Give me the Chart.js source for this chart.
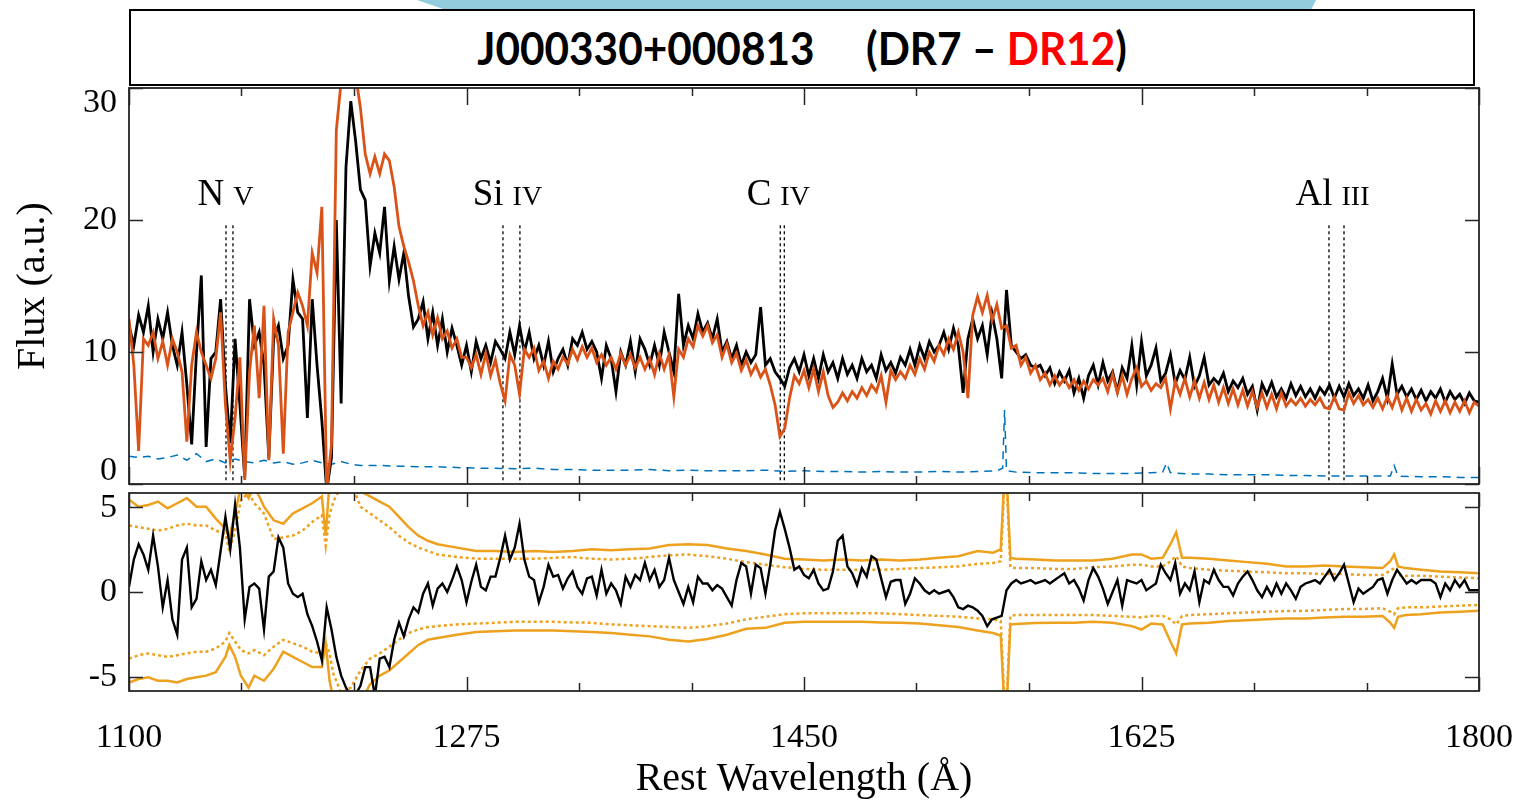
<!DOCTYPE html>
<html><head><meta charset="utf-8">
<script src="https://cdn.jsdelivr.net/npm/chart.js@4.4.1/dist/chart.umd.min.js"></script>
<style>
html,body{margin:0;padding:0;background:#fff;}
body{width:1516px;height:803px;position:relative;overflow:hidden;}
#deco{position:absolute;left:400px;top:0;width:930px;height:30px;background:#93CDDD;clip-path:polygon(17px 0,916px 0,901px 30px,104px 30px);z-index:1;}
#titlebox{position:absolute;left:129px;top:9px;width:1346px;height:77px;box-sizing:border-box;border:2px solid #000;background:#fff;display:flex;align-items:center;justify-content:center;z-index:2;}
#titletext{font-family:Lato,"Open Sans",sans-serif;font-weight:700;font-size:46px;color:#000;white-space:pre;transform:scaleX(0.92);line-height:1;}
canvas{position:absolute;left:0;z-index:3;}
#cTop{top:0;}
#cBot{top:486px;}
</style></head>
<body>
<div id="deco"></div>
<div id="titlebox"><span id="titletext">J000330+000813<span style="display:inline-block;width:56px"></span>(DR7 – <span style="color:#ff0000">DR12</span>)</span></div>
<canvas id="cTop" width="1516" height="500"></canvas>
<canvas id="cBot" width="1516" height="317"></canvas>
<script>
// ---------- DATA ----------
const wavelength = [
1100,1102.5,1105,1107.5,1110,1112.5,1115,1117.5,1120,1122.5,
1125,1127.5,1130,1132.5,1135,1137.5,1140,1142.5,1145,1147.5,
1150,1152.5,1155,1157.5,1160,1162.5,1165,1167.5,1170,1172.5,
1175,1177.5,1180,1182.5,1185,1187.5,1190,1192.5,1195,1197.5,
1200,1202.5,1205,1207.5,1210,1212.5,1215,1217.5,1220,1222.5,
1225,1227.5,1230,1232.5,1235,1237.5,1240,1242.5,1245,1247.5,
1250,1252.5,1255,1257.5,1260,1262.5,1265,1267.5,1270,1272.5,
1275,1277.5,1280,1282.5,1285,1287.5,1290,1292.5,1295,1297.5,
1300,1302.5,1305,1307.5,1310,1312.5,1315,1317.5,1320,1322.5,
1325,1327.5,1330,1332.5,1335,1337.5,1340,1342.5,1345,1347.5,
1350,1352.5,1355,1357.5,1360,1362.5,1365,1367.5,1370,1372.5,
1375,1377.5,1380,1382.5,1385,1387.5,1390,1392.5,1395,1397.5,
1400,1402.5,1405,1407.5,1410,1412.5,1415,1417.5,1420,1422.5,
1425,1427.5,1430,1432.5,1435,1437.5,1440,1442.5,1445,1447.5,
1450,1452.5,1455,1457.5,1460,1462.5,1465,1467.5,1470,1472.5,
1475,1477.5,1480,1482.5,1485,1487.5,1490,1492.5,1495,1497.5,
1500,1502.5,1505,1507.5,1510,1512.5,1515,1517.5,1520,1522.5,
1525,1527.5,1530,1532.5,1535,1537.5,1540,1542.5,1545,1547.5,
1550,1552.5,1555,1557.5,1560,1562.5,1565,1567.5,1570,1572.5,
1575,1577.5,1580,1582.5,1585,1587.5,1590,1592.5,1595,1597.5,
1600,1602.5,1605,1607.5,1610,1612.5,1615,1617.5,1620,1622.5,
1625,1627.5,1630,1632.5,1635,1637.5,1640,1642.5,1645,1647.5,
1650,1652.5,1655,1657.5,1660,1662.5,1665,1667.5,1670,1672.5,
1675,1677.5,1680,1682.5,1685,1687.5,1690,1692.5,1695,1697.5,
1700,1702.5,1705,1707.5,1710,1712.5,1715,1717.5,1720,1722.5,
1725,1727.5,1730,1732.5,1735,1737.5,1740,1742.5,1745,1747.5,
1750,1752.5,1755,1757.5,1760,1762.5,1765,1767.5,1770,1772.5,
1775,1777.5,1780,1782.5,1785,1787.5,1790,1792.5,1795,1797.5,1800];

const fluxDR7 = [
12.0,10.5,12.8,11.5,13.5,10.0,12.5,11.0,13.0,10.5,
9.0,11.5,7.5,3.0,10.0,15.8,2.8,9.5,10.0,14.0,
7.5,3.1,11.0,6.0,0.5,14.0,10.5,11.5,9.0,2.0,
11.0,12.0,9.5,10.5,15.5,13.0,12.5,5.0,14.0,9.0,
4.8,-0.5,2.0,20.0,6.1,24.0,29.0,26.0,22.3,21.5,
16.5,19.0,17.5,21.0,15.4,18.0,15.5,17.5,14.2,11.9,
12.5,13.8,11.0,13.0,10.5,12.5,10.0,11.8,10.5,9.0,
10.5,8.5,10.8,9.5,10.5,9.2,10.8,10.2,9.5,11.5,
9.8,12.0,10.0,11.5,9.5,10.5,9.0,10.8,8.5,9.5,
10.2,9.0,11.0,10.5,11.5,10.2,10.8,10.0,8.0,10.5,
9.5,7.0,10.0,9.0,10.8,8.5,11.0,10.2,9.0,10.5,
9.0,11.5,10.0,8.5,14.4,10.5,12.0,11.0,12.9,11.5,
12.2,11.0,12.5,10.0,10.8,9.5,10.5,9.0,10.0,9.2,
9.8,13.4,9.0,9.5,8.5,8.0,7.4,8.8,9.5,8.5,
9.8,8.2,9.5,8.0,9.8,8.5,9.2,8.0,9.5,8.3,
9.0,8.0,9.5,8.5,9.0,8.0,9.8,8.6,9.2,8.4,
9.6,9.0,10.2,9.0,10.5,9.5,10.8,10.0,10.5,11.5,
10.2,11.8,10.5,6.9,11.0,12.5,11.0,12.0,9.8,12.9,
11.0,8.0,14.7,10.5,10.0,9.5,9.8,9.0,8.8,9.0,
8.2,8.8,7.6,8.5,7.8,8.6,6.9,8.0,6.5,8.2,
9.0,7.5,9.2,7.8,8.5,7.0,8.8,8.0,10.5,7.5,
10.8,8.2,9.0,10.3,7.8,8.4,9.8,7.6,8.6,7.9,
9.6,7.4,8.2,9.6,7.5,8.0,7.6,8.4,7.0,7.8,
7.3,8.0,6.8,7.4,5.6,7.6,6.8,7.7,6.6,7.2,
6.5,7.6,6.7,7.4,6.6,7.2,6.5,7.3,6.8,7.5,
6.5,7.4,6.6,7.6,6.7,7.2,6.5,7.5,6.3,7.0,
8.0,6.5,9.1,6.8,7.4,6.6,7.2,6.4,7.1,6.3,
7.0,6.5,7.2,6.2,7.0,6.4,6.8,6.1,6.9,6.3,6.2];

const fluxDR12 = [
12.5,9.0,2.5,11.0,10.5,11.5,9.5,10.8,9.0,11.0,
10.0,8.5,3.2,9.0,11.5,10.0,9.0,8.0,9.5,13.0,
6.0,1.8,5.0,9.6,0.3,8.5,12.0,6.5,13.5,1.8,
12.5,10.5,2.3,11.5,13.0,14.5,13.5,12.0,17.5,16.0,
21.0,-0.5,3.0,26.8,30.5,33.0,34.0,31.0,28.5,25.0,
23.5,24.8,23.5,25.0,24.5,22.5,19.5,18.0,16.8,15.4,
13.5,12.0,13.0,11.3,12.6,11.0,11.6,10.3,11.0,9.6,
9.6,8.8,9.8,8.3,9.9,8.2,9.4,7.6,6.3,9.8,
9.0,6.8,10.2,9.6,10.3,8.6,9.3,8.0,9.3,8.7,
9.6,9.1,10.2,9.4,10.4,9.6,10.3,9.2,9.8,9.0,
9.6,8.7,9.9,9.0,9.8,8.8,9.6,8.7,9.5,8.3,
9.9,8.7,9.8,6.6,10.2,9.6,11.0,10.4,12.0,11.2,
12.0,10.7,11.3,9.6,10.6,9.2,9.9,8.6,9.4,8.3,
9.0,8.1,8.7,7.5,6.0,3.6,4.2,6.5,8.2,7.6,
8.6,7.3,8.7,7.0,8.5,6.7,5.8,6.2,6.9,6.3,
7.0,6.5,7.3,6.7,7.5,7.0,8.2,6.2,8.6,7.9,
8.5,8.0,9.0,8.3,9.5,8.7,10.0,9.3,10.5,9.8,
11.0,10.2,11.5,10.0,6.5,12.8,14.2,13.0,14.3,12.4,
13.6,11.8,12.0,10.3,10.5,9.0,9.6,8.4,9.0,7.9,
8.4,7.5,8.2,7.5,8.0,7.3,7.9,7.1,7.8,7.2,
7.9,7.5,8.0,7.0,8.3,6.9,8.2,6.8,8.0,8.8,
7.4,7.8,7.1,7.6,7.3,8.0,5.7,7.8,6.8,8.0,
6.6,7.8,6.5,7.7,6.4,7.5,6.2,7.3,6.1,7.2,
6.0,7.1,5.9,7.0,5.8,6.9,5.8,6.8,5.7,6.9,
5.9,6.4,6.0,6.5,5.9,6.4,6.0,6.5,5.8,5.7,
6.6,5.7,5.6,6.9,6.1,6.7,6.0,6.4,5.8,6.5,
5.7,6.6,5.8,6.8,5.6,6.5,5.5,6.4,5.6,6.1,
5.3,6.3,5.5,6.3,5.4,6.2,5.5,6.3,5.4,6.2,5.9];

const fluxDiff = [
0.3,1.9,2.8,2.2,1.3,3.3,1.5,-0.9,0.7,-1.6,
-2.5,1.9,2.6,-0.9,-0.4,1.8,0.7,1.3,0.4,2.4,
4.4,2.5,5.1,2.6,-1.6,0.3,0.5,0.2,-2.2,0.9,
1.2,3.2,2.6,0.5,-0.1,-0.3,-0.1,-1.3,-2.0,-2.9,
-4.0,-0.9,-2.2,-3.8,-4.9,-5.6,-6.1,-6.0,-5.5,-4.4,
-4.4,-6.1,-3.9,-3.8,-4.4,-2.8,-1.8,-2.6,-1.6,-0.9,
-1.2,-0.1,0.5,-0.8,0.2,0.5,0.0,0.7,1.5,0.7,
-0.6,0.6,1.6,0.3,0.1,0.9,0.9,2.0,3.3,1.9,
2.6,4.0,1.9,0.9,0.7,-0.6,0.3,1.6,0.9,1.0,
0.2,0.8,1.2,0.3,-0.1,0.8,0.9,-0.2,1.3,-0.1,
0.5,0.1,-0.7,0.9,0.3,1.0,0.7,1.7,0.7,1.3,
0.3,0.7,2.0,0.7,0.0,-0.7,0.3,-0.6,0.9,0.5,
0.5,0.1,0.4,0.2,-0.3,-0.8,0.7,1.7,1.5,-0.1,
1.6,1.4,-0.1,1.6,3.6,4.7,3.7,2.6,1.3,1.5,
1.0,0.8,1.3,0.5,0.1,0.2,1.2,3.0,3.3,1.5,
1.1,0.4,1.4,0.9,2.1,1.9,0.8,-0.3,0.6,0.7,
0.7,-0.7,-0.1,0.8,0.5,0.1,-0.1,0.1,-0.1,0.0,
0.1,-0.3,-0.9,-1.0,-0.8,-0.9,-1.1,-1.4,-2.0,-1.6,
-1.5,-1.4,0.1,0.5,0.7,0.5,0.6,0.7,0.5,0.6,
0.7,0.5,0.7,0.9,1.1,0.5,0.7,0.2,-0.5,0.7,
1.4,0.9,0.2,-0.7,0.0,0.7,-0.8,0.7,0.6,0.5,
0.7,0.1,0.3,0.5,1.6,1.1,0.7,1.7,-0.1,0.5,
0.1,1.2,-0.6,0.7,0.5,1.3,0.7,0.3,0.3,-0.2,
0.5,0.9,1.2,0.7,0.1,-0.3,0.3,-0.2,0.5,-0.1,
0.5,0.1,-0.4,0.3,0.5,0.6,0.7,0.5,0.9,1.3,
0.7,1.1,1.6,0.5,-0.6,0.2,-0.1,0.1,0.3,0.7,
0.8,-0.1,0.7,1.3,0.9,0.5,0.7,0.5,0.7,0.7,
0.7,0.5,-0.3,0.5,0.1,0.7,0.3,0.7,0.1,0.1,0.1];

const errWavelength = [1100,1105,1110,1115,1120,1125,1130,1135,1140,1145,1150,1155,1160,1165,1170,1175,1180,1185,1190,1195,1200,1205,1210,1215,1220,
1230,1240,1250,1260,1270,1280,1290,1300,1310,1320,1330,1340,1350,1360,1370,1380,1390,1400,1410,1420,1430,1440,1450,1460,1470,1480,1490,1500,1510,1520,1530,1540,1550,
1553,1554,1555,1560,1570,1580,1590,1600,1610,1620,1630,1636,1638,1640,
1650,1660,1670,1680,1690,1700,1710,1720,1730,1740,1750,1754,1756,1758,1770,1780,1790,1800];
const fluxError = [2.1,2.0,2.1,1.9,2.0,2.2,1.8,2.3,1.7,1.9,1.6,1.9,1.7,1.6,1.8,1.6,1.7,1.5,1.6,1.8,1.6,1.5,1.7,1.5,1.4,
1.4,1.35,1.3,1.3,1.25,1.2,1.2,1.15,1.2,1.1,1.1,1.05,1.05,1.05,1.1,1.0,1.05,1.0,1.0,1.0,1.05,0.95,1.0,0.95,0.95,0.9,0.95,0.9,0.9,0.95,0.9,0.95,1.0,
1.2,5.6,1.0,0.9,0.85,0.85,0.85,0.8,0.8,0.8,0.85,0.9,1.6,0.85,
0.75,0.75,0.7,0.7,0.7,0.65,0.65,0.6,0.6,0.6,0.6,0.6,1.4,0.6,0.55,0.55,0.5,0.5];

const envWavelength = [1100,1105,1110,1115,1120,1125,1130,1135,1140,1145,
1150,1152,1155,1158,1162,1165,1170,1175,1180,1185,
1190,1195,1200,1202,1204,1206,1210,1215,1220,1225,
1230,1235,1240,1245,1250,1255,1260,1270,1280,1290,
1300,1310,1320,1330,1340,1350,1360,1370,1380,1390,
1400,1410,1420,1430,1440,1450,1460,1470,1480,1490,
1500,1510,1520,1530,1540,1548,1552,1554,1555,1557,
1560,1570,1580,1590,1600,1610,1620,1625,1630,1636,
1640,1643,1646,1650,1660,1670,1680,1690,1700,1710,
1720,1730,1740,1750,1754,1756,1758,1762,1770,1780,
1790,1800];
const envUpperOuter = [5.4,5.0,5.1,5.3,4.9,5.2,5.5,5.0,5.0,4.3,
3.7,3.2,4.6,6.2,5.5,6.2,5.0,4.2,4.0,4.6,
4.9,5.2,5.6,3.3,6.5,7,7,7,5.9,5.6,
5.3,5.0,4.4,3.8,3.3,3.0,2.8,2.6,2.4,2.4,
2.35,2.4,2.35,2.4,2.5,2.45,2.5,2.55,2.75,2.8,
2.75,2.55,2.4,2.2,1.95,1.9,1.85,1.9,1.85,1.9,
1.85,1.9,2.0,2.1,2.4,2.3,2.5,7,7,2.0,
1.95,1.9,1.85,1.85,1.85,1.95,2.2,2.2,1.95,2.0,
2.8,3.5,2.0,2.0,1.95,1.85,1.75,1.65,1.5,1.5,
1.55,1.5,1.45,1.4,1.8,2.2,1.5,1.4,1.3,1.2,
1.15,1.1];
const envUpperInner = [3.9,3.8,3.7,3.6,3.7,3.9,4.0,3.9,3.9,3.6,
3.4,2.4,3.6,5.4,5.8,5.2,4.6,3.1,3.2,3.3,
3.6,4.1,4.5,2.7,4.5,5.3,6.2,6.5,5.0,4.6,
4.2,3.8,3.3,2.9,2.6,2.4,2.2,2.05,1.95,1.95,
1.95,1.95,2.0,2.05,1.95,1.9,1.95,2.05,2.15,2.2,
2.1,1.95,1.75,1.6,1.45,1.35,1.3,1.3,1.3,1.3,
1.35,1.4,1.45,1.5,1.65,1.7,1.8,6.5,6.5,1.45,
1.4,1.4,1.35,1.35,1.45,1.5,1.6,1.6,1.5,1.5,
1.8,2.1,1.5,1.4,1.3,1.25,1.2,1.15,1.1,1.1,
1.05,1.05,1.0,1.0,1.25,1.4,1.0,0.95,0.95,0.9,
0.85,0.8];
const envLowerOuter = [-5.3,-5.1,-5.0,-5.2,-5.2,-5.3,-5.1,-5.0,-4.9,-4.7,
-3.8,-3.1,-3.8,-4.9,-5.6,-4.9,-5.2,-4.5,-3.5,-3.8,
-4.1,-4.4,-4.4,-3.0,-5.2,-6.3,-7,-7,-6.5,-5.4,
-4.9,-4.6,-4.1,-3.6,-3.1,-2.8,-2.7,-2.5,-2.35,-2.3,
-2.25,-2.25,-2.25,-2.3,-2.35,-2.4,-2.5,-2.6,-2.8,-2.9,
-2.75,-2.5,-2.15,-2.1,-1.8,-1.75,-1.75,-1.75,-1.75,-1.78,
-1.8,-1.85,-1.95,-2.05,-2.25,-2.4,-2.55,-7,-7,-1.9,
-1.88,-1.82,-1.8,-1.8,-1.75,-1.8,-2.0,-2.2,-1.85,-1.9,
-2.9,-3.6,-1.9,-1.85,-1.8,-1.7,-1.65,-1.6,-1.55,-1.55,
-1.5,-1.45,-1.45,-1.4,-1.8,-2.1,-1.45,-1.35,-1.3,-1.2,
-1.15,-1.1];
const envLowerInner = [-3.9,-3.7,-3.6,-3.7,-3.8,-3.7,-3.6,-3.5,-3.5,-3.3,
-2.9,-2.4,-2.9,-3.4,-3.6,-3.4,-3.7,-3.2,-2.8,-3.0,
-3.2,-3.5,-3.6,-3.0,-3.6,-4.8,-5.9,-5.6,-4.6,-3.9,
-3.6,-3.2,-2.8,-2.4,-2.2,-2.05,-2.0,-1.9,-1.85,-1.8,
-1.75,-1.75,-1.75,-1.78,-1.8,-1.9,-1.95,-2.0,-2.05,-2.1,
-2.0,-1.85,-1.6,-1.45,-1.3,-1.25,-1.25,-1.25,-1.25,-1.25,
-1.3,-1.35,-1.4,-1.45,-1.55,-1.6,-1.7,-6.5,-6.5,-1.4,
-1.35,-1.35,-1.35,-1.35,-1.35,-1.4,-1.45,-1.5,-1.4,-1.4,
-1.6,-1.9,-1.4,-1.35,-1.3,-1.25,-1.2,-1.15,-1.12,-1.1,
-1.05,-1.0,-1.0,-0.95,-1.15,-1.3,-0.95,-0.9,-0.9,-0.85,
-0.8,-0.76];

const lineNames = ['N', 'Si', 'C', 'Al'];
const lineIons = ['V', 'IV', 'IV', 'III'];
const lineWavelengths = [[1150.3, 1153.9], [1293.9, 1302.7], [1437.7, 1439.8], [1722.2, 1730.0]];
const lineMarkTop = 19.6;

const xTickLabels = [1100, 1275, 1450, 1625, 1800];
const yTicksTop = [0, 10, 20, 30];
const yTicksBottom = [-5, 0, 5];

// ---------- HELPERS ----------
const pts = (xs, ys) => xs.map((x, i) => ({x: x, y: ys[i]}));
const xTickValues = [];
for (let i = 0; i < xTickLabels.length - 1; i++) {
  for (let j = 0; j < 3; j++) xTickValues.push(xTickLabels[i] + j * (xTickLabels[i + 1] - xTickLabels[i]) / 3);
}
xTickValues.push(xTickLabels[xTickLabels.length - 1]);
const isMajor = v => xTickLabels.some(l => Math.abs(l - v) < 0.01);

const SERIF = '"Liberation Serif", "Times New Roman", serif';

const framePlugin = {
  id: 'frame',
  afterDatasetsDraw(chart, args, o) {
    const {ctx, chartArea: a, scales} = chart;
    const x = scales.x, y = scales.y;
    ctx.save();
    ctx.strokeStyle = '#262626';
    ctx.lineWidth = 1.5;
    ctx.beginPath();
    xTickValues.forEach(v => {
      const px = Math.round(x.getPixelForValue(v)) + 0.5;
      const len = isMajor(v) ? o.majorLen : o.minorLen;
      ctx.moveTo(px, a.bottom); ctx.lineTo(px, a.bottom - len);
      ctx.moveTo(px, a.top); ctx.lineTo(px, a.top + len);
    });
    o.yTicks.forEach(v => {
      const py = Math.round(y.getPixelForValue(v)) + 0.5;
      ctx.moveTo(a.left, py); ctx.lineTo(a.left + 14, py);
      ctx.moveTo(a.right, py); ctx.lineTo(a.right - 14, py);
    });
    ctx.stroke();
    ctx.lineWidth = 1.8;
    ctx.strokeRect(a.left, a.top, a.right - a.left, a.bottom - a.top);
    ctx.fillStyle = '#000';
    ctx.font = '34px ' + SERIF;
    ctx.textAlign = 'right';
    ctx.textBaseline = 'middle';
    o.yTicks.forEach(v => {
      let py = y.getPixelForValue(v);
      py = Math.min(Math.max(py, a.top + 15), a.bottom - 13);
      ctx.fillText(String(v), a.left - 12, py);
    });
    if (o.lineLabels) {
      const base = y.getPixelForValue(21.1);
      ctx.textAlign = 'left';
      ctx.textBaseline = 'alphabetic';
      lineNames.forEach((nm, i) => {
        const cx = x.getPixelForValue((lineWavelengths[i][0] + lineWavelengths[i][1]) / 2) - 4;
        ctx.font = '37px ' + SERIF;
        const w1 = ctx.measureText(nm).width;
        ctx.font = '28px ' + SERIF;
        const w2 = ctx.measureText(lineIons[i]).width;
        const gap = 9;
        const start = cx - (w1 + gap + w2) / 2;
        ctx.font = '37px ' + SERIF;
        ctx.fillText(nm, start, base);
        ctx.font = '28px ' + SERIF;
        ctx.fillText(lineIons[i], start + w1 + gap, base);
      });
    }
    ctx.restore();
  }
};

const ORANGE = '#D95319';
const GOLD = '#EDA11E';
const BLUE = '#0072BD';

// ---------- TOP PANEL ----------
const markerSets = [];
lineWavelengths.forEach(pair => pair.forEach(w => {
  markerSets.push({data: [{x: w, y: lineMarkTop}, {x: w, y: 0}], borderColor: '#000', borderWidth: 1.3,
    borderDash: [3, 3], pointRadius: 0, clip: 0});
}));

new Chart(document.getElementById('cTop'), {
  type: 'line',
  data: {
    datasets: [
      {label: 'DR12', data: pts(wavelength, fluxDR12), borderColor: ORANGE, borderWidth: 2.8, pointRadius: 0, clip: 0},
      {label: 'DR7', data: pts(wavelength, fluxDR7), borderColor: '#000', borderWidth: 2.8, pointRadius: 0, clip: 0},
      {label: 'error', data: pts(errWavelength, fluxError), borderColor: BLUE, borderWidth: 1.5, borderDash: [8, 6], pointRadius: 0, clip: 0},
      ...markerSets
    ]
  },
  options: {
    responsive: false, animation: false, devicePixelRatio: 1, events: [],
    layout: {padding: {top: 88, right: 37, bottom: 16, left: 0}},
    plugins: {legend: {display: false}, tooltip: {enabled: false},
      frame: {yTicks: yTicksTop, majorLen: 17, minorLen: 8, lineLabels: true}},
    scales: {
      x: {type: 'linear', min: 1100, max: 1800, display: false},
      y: {type: 'linear', min: 0, max: 30,
        afterFit: s => { s.width = 129; },
        ticks: {display: false}, grid: {display: false}, border: {display: false},
        title: {display: true, text: 'Flux (a.u.)', color: '#000', font: {family: SERIF, size: 40}, padding: {top: 9, bottom: 0}}}
    }
  },
  plugins: [framePlugin]
});

// ---------- BOTTOM PANEL ----------
new Chart(document.getElementById('cBot'), {
  type: 'line',
  data: {
    datasets: [
      {label: 'DR7-DR12', data: pts(wavelength, fluxDiff), borderColor: '#000', borderWidth: 2.4, pointRadius: 0, clip: 0},
      {label: 'up', data: pts(envWavelength, envUpperOuter), borderColor: GOLD, borderWidth: 2.5, pointRadius: 0, clip: 0},
      {label: 'lo', data: pts(envWavelength, envLowerOuter), borderColor: GOLD, borderWidth: 2.5, pointRadius: 0, clip: 0},
      {label: 'up2', data: pts(envWavelength, envUpperInner), borderColor: GOLD, borderWidth: 2.5, borderDash: [3, 3], pointRadius: 0, clip: 0},
      {label: 'lo2', data: pts(envWavelength, envLowerInner), borderColor: GOLD, borderWidth: 2.5, borderDash: [3, 3], pointRadius: 0, clip: 0}
    ]
  },
  options: {
    responsive: false, animation: false, devicePixelRatio: 1, events: [],
    layout: {padding: {top: 7, right: 37, bottom: 0, left: 0}},
    plugins: {legend: {display: false}, tooltip: {enabled: false},
      frame: {yTicks: yTicksBottom, majorLen: 14, minorLen: 8, lineLabels: false}},
    scales: {
      x: {type: 'linear', min: 1100, max: 1800,
        afterFit: s => { s.height = 112; s.paddingLeft = 0; s.paddingRight = 0; },
        afterBuildTicks: s => { s.ticks = xTickValues.map(v => ({value: v})); },
        ticks: {autoSkip: false, maxRotation: 0, padding: 27, color: '#000', font: {family: SERIF, size: 34},
          callback: v => isMajor(v) ? String(Math.round(v)) : ''},
        grid: {display: false, drawTicks: false}, border: {display: false},
        title: {display: true, text: 'Rest Wavelength (Å)', color: '#000', font: {family: SERIF, size: 40}, padding: {top: 0, bottom: 0}}},
      y: {type: 'linear', min: -5.8, max: 5.8,
        afterFit: s => { s.width = 129; },
        ticks: {display: false}, grid: {display: false}, border: {display: false}}
    }
  },
  plugins: [framePlugin]
});
</script>
</body></html>
